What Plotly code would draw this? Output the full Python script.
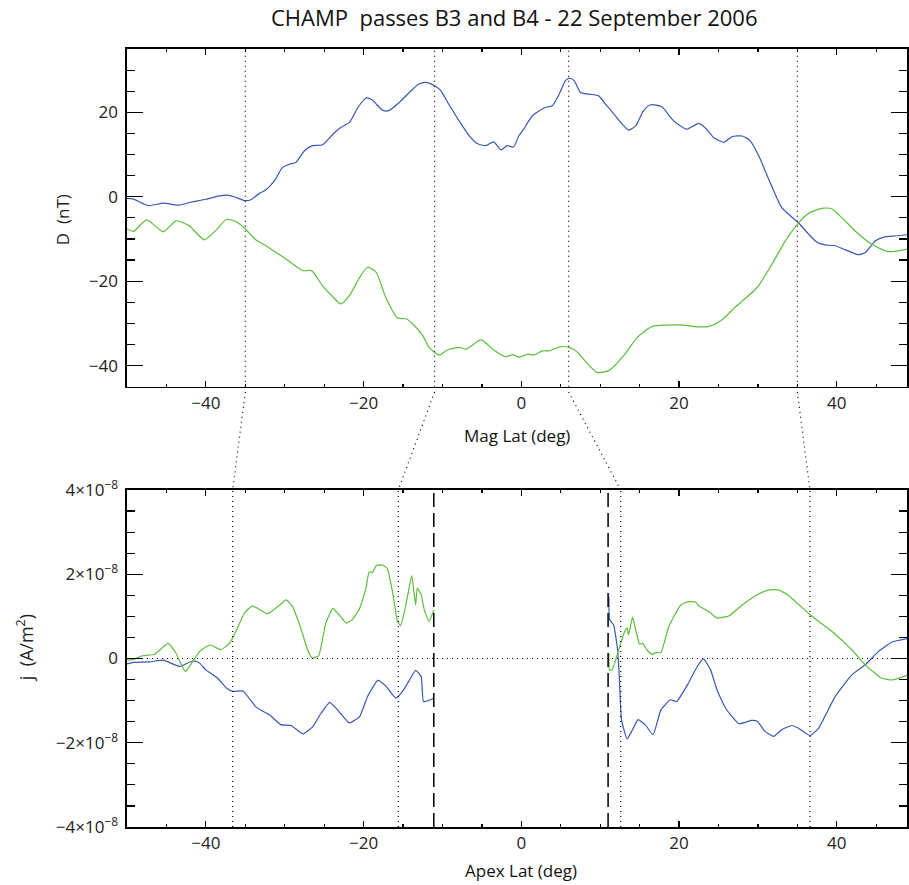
import plotly.graph_objects as go
import numpy as np

# ---------------- data ----------------
# Top panel: D (nT) vs magnetic latitude
mlat_blue = [-50.1,-49.2,-47.3,-45.4,-43.5,-41.9,-40,-38.3,-37.3,-36.4,-35.1,-34.3,-33.2,-32.4,-31.3,-30.3,-29.4,-28.6,-27.5,-26.5,-25.2,-23.9,-22.9,-21.8,-20.7,-19.7,-18.9,-17.6,-16.8,-15.5,-14.2,-13,-12.1,-11,-10.2,-9.2,-7.9,-6.6,-5.6,-4.5,-3.5,-2.6,-1.8,-1.0,-0.3,0.3,1.4,3.1,3.9,4.8,5.6,6.1,6.7,7.5,8.6,9.8,10.7,11.7,12.8,13.6,14.5,15.5,16.4,17.8,19.1,20,21,22.5,23.5,24.4,25.7,26.7,28,29,30.1,30.9,32,33,34.1,35.1,36.4,37.5,38.5,39.8,41.1,42.7,43.6,44.9,46.1,47.4,48.9]
D_blue = [-0.4,-0.55,-2.1,-1.5,-2.0,-1.3,-0.6,0.2,0.4,0,-0.9,-0.7,0.8,1.6,3.8,6.9,7.7,8.1,10.9,12.1,12.3,14.8,16.4,17.6,21.2,23.4,22.9,20.5,20.4,22.3,24.7,26.7,27.1,26.3,25.1,21.9,18.0,14.4,12.6,12.1,13.0,11.1,12.1,11.8,14.5,16.0,19.2,21.2,21.5,24.3,27.5,28.1,27.5,24.7,24.3,23.9,21.9,19.7,17.2,15.8,16.8,20.4,21.8,21.3,18.4,17.0,16.0,17.4,16.0,14.0,12.9,14.2,14.4,13.3,9.7,6.2,1.4,-2.5,-4.5,-6.1,-8.8,-10.8,-11.4,-11.6,-12.6,-13.7,-13.2,-10.4,-9.5,-9.3,-9.0]

mlat_green = [-50.1,-49.2,-47.5,-45.4,-43.8,-42.1,-40.2,-38.7,-37.4,-36.4,-35.1,-33.8,-32.4,-29.8,-27.7,-26.6,-25.2,-23.9,-22.9,-21.8,-20.5,-19.5,-18.4,-17.2,-15.7,-14.6,-13.8,-12.5,-11.7,-10.4,-9.4,-7.9,-7.0,-5.1,-3.5,-2.0,-1.1,-0.3,0.8,1.6,2.7,3.5,5.0,6.2,7.1,8.4,9.6,11.1,13.0,14.7,16.6,18.3,20.6,21.6,23.8,25.4,27.1,29.9,31.8,33.5,35.1,36.6,38.3,39.4,40.6,42.5,44.4,46.5,48.9]
D_green = [-7.5,-8.2,-5.5,-8.3,-5.7,-6.9,-10.2,-7.9,-5.4,-5.7,-7.4,-10.0,-11.6,-14.8,-17.5,-17.5,-21.1,-23.7,-25.4,-23.4,-19.1,-16.7,-17.9,-23.8,-28.7,-28.9,-30.1,-32.9,-35.7,-37.5,-36.3,-35.7,-36.1,-33.9,-36.3,-37.9,-37.4,-38.0,-37.3,-37.5,-36.5,-36.5,-35.5,-35.8,-36.8,-39.6,-41.6,-41.2,-37.6,-33.3,-30.7,-30.4,-30.4,-30.7,-30.7,-29.2,-26.2,-21.5,-15.9,-10.4,-6.3,-3.7,-2.7,-2.9,-4.9,-8.4,-11.2,-13.0,-12.4]

# Bottom panel: j (units of 1e-8 A/m^2) vs apex latitude, south and north segments
alat_blue_s = [-50.1,-49.2,-47.1,-45.4,-43.3,-42.1,-41.4,-40.8,-40,-38.5,-37.4,-36.6,-35.3,-33.6,-31.9,-30.5,-29.2,-27.7,-26.5,-25.4,-24.3,-23.3,-21.8,-20.5,-19.5,-18.2,-17.2,-15.9,-14.9,-13.4,-12.7,-12.4,-11.3,-11.1]
j_blue_s = [-0.13,-0.09,-0.08,-0.04,-0.19,-0.09,-0.06,-0.11,-0.27,-0.47,-0.70,-0.78,-0.77,-1.16,-1.34,-1.57,-1.59,-1.79,-1.63,-1.30,-1.04,-1.22,-1.53,-1.38,-0.90,-0.52,-0.65,-0.94,-0.74,-0.28,-0.43,-1.02,-0.96,-0.94]
alat_green_s = [-50.1,-49.2,-48.2,-46.5,-44.8,-43.8,-42.6,-40.8,-39.5,-38.1,-37.0,-36.2,-35.1,-34.1,-32.2,-30.9,-29.8,-29.0,-27.9,-27.1,-26.5,-25.7,-24.8,-23.9,-23.3,-22.2,-21.4,-20.5,-19.7,-19.3,-18.9,-18.4,-17.6,-17.0,-16.3,-15.7,-15.3,-14.6,-13.9,-13.6,-13.4,-13.2,-12.7,-12.3,-11.7,-11.1]
j_green_s = [-0.03,-0.03,0.06,0.10,0.36,0.13,-0.31,0.17,0.32,0.21,0.36,0.64,1.08,1.25,1.06,1.23,1.39,1.23,0.68,0.21,0.01,0.06,0.84,1.19,1.08,0.84,0.93,1.19,1.67,2.06,2.04,2.20,2.22,2.14,1.55,0.88,0.78,1.31,1.97,1.55,1.27,1.67,1.51,1.15,0.88,1.15]
alat_blue_n = [11.1,11.2,11.7,12.2,12.4,12.7,13.4,14.1,14.8,15.7,16.7,17.7,18.9,19.7,21.2,22.3,23.1,24.0,24.8,25.9,27.6,29.2,29.9,30.9,32.0,33.0,34.3,35.1,36.6,37.7,39.8,41.9,43.6,45.3,47.0,48.9]
j_blue_n = [1.47,0.92,0.80,0.21,-0.35,-1.45,-1.91,-1.69,-1.45,-1.57,-1.81,-1.22,-0.98,-1.02,-0.58,-0.19,-0.01,-0.27,-0.74,-1.18,-1.55,-1.47,-1.49,-1.73,-1.85,-1.69,-1.59,-1.65,-1.83,-1.65,-0.90,-0.39,-0.15,0.17,0.39,0.47]
alat_green_n = [11.1,11.2,11.5,11.9,12.6,13.1,13.4,13.6,14.1,14.5,15.0,15.4,15.9,16.6,17.0,17.7,18.7,20.2,21.2,22.1,22.5,23.8,24.8,26.3,28.0,30.1,31.4,32.6,33.8,36.6,39.4,42.1,43.6,45.7,47.0,48.9]
j_green_n = [0.13,-0.28,-0.27,-0.07,0.36,0.64,0.72,0.56,0.98,0.68,0.34,0.36,0.21,0.09,0.14,0.14,0.76,1.27,1.35,1.34,1.25,1.11,0.96,1.01,1.27,1.53,1.63,1.63,1.51,1.04,0.64,0.17,-0.15,-0.47,-0.51,-0.40]
j_scale = 1e-8

# Marker latitudes
mag_marks = [-35, -11, 6, 35]           # dotted lines, top panel
apex_marks = [-36.6, -15.6, 12.6, 36.6]  # dotted lines, bottom panel
apex_dashed = [-11.1, 11.0]             # dashed lines, bottom panel

x_ticks = [-40, -20, 0, 20, 40]
D_ticks = [-40, -20, 0, 20]
j_tickvals = [-4e-8, -2e-8, 0, 2e-8, 4e-8]
j_ticktext = ["\u22124\u00d710<sup>\u22128</sup>", "\u22122\u00d710<sup>\u22128</sup>", "0",
              "2\u00d710<sup>\u22128</sup>", "4\u00d710<sup>\u22128</sup>"]

BLUE = "#3a56b4"
GREEN = "#5cbe3a"
FONT = "Open Sans"

fig = go.Figure()

fig.add_trace(go.Scatter(x=mlat_blue, y=D_blue, mode="lines", line=dict(color=BLUE, width=1.2, shape="spline", smoothing=0.6), xaxis="x", yaxis="y", showlegend=False, hoverinfo="skip"))
fig.add_trace(go.Scatter(x=mlat_green, y=D_green, mode="lines", line=dict(color=GREEN, width=1.2, shape="spline", smoothing=0.6), xaxis="x", yaxis="y", showlegend=False, hoverinfo="skip"))

for xs, ys, col in [(alat_blue_s, j_blue_s, BLUE), (alat_blue_n, j_blue_n, BLUE),
                    (alat_green_s, j_green_s, GREEN), (alat_green_n, j_green_n, GREEN)]:
    fig.add_trace(go.Scatter(x=xs, y=np.array(ys) * j_scale, mode="lines",
                             line=dict(color=col, width=1.2, shape="spline", smoothing=0.4),
                             xaxis="x2", yaxis="y2", showlegend=False, hoverinfo="skip"))

PLOT_TOP = 49
PLOT_BOT = 827
H = PLOT_BOT - PLOT_TOP
def py(p):
    return (PLOT_BOT - p) / H

top_dom = [py(386.7), 1.0]
bot_dom = [0.0, py(490)]

xcommon = dict(range=[-50, 48.9], tickvals=x_ticks, ticks="inside", ticklen=6, tickwidth=1.2,
               tickcolor="black", showline=True, linecolor="black", linewidth=1.6, mirror="ticks",
               showgrid=False, zeroline=False,
               minor=dict(dtick=5, tick0=0, ticks="inside", ticklen=3, tickcolor="black", tickwidth=1.2),
               tickfont=dict(family=FONT, size=17, color="#222"))
ycommon = dict(ticks="inside", ticklen=16, tickwidth=1.2, tickcolor="black", showline=True,
               linecolor="black", linewidth=1.6, mirror="ticks", showgrid=False, zeroline=False,
               tickfont=dict(family=FONT, size=17, color="#222"), ticklabelstandoff=4)

fig.update_layout(
    width=909, height=885,
    margin=dict(l=127, r=0, t=PLOT_TOP, b=885 - PLOT_BOT),
    paper_bgcolor="white", plot_bgcolor="white",
    xaxis=dict(domain=[0, 1], anchor="y", **xcommon),
    yaxis=dict(domain=top_dom, anchor="x", range=[-45, 35], tickvals=D_ticks,
               minor=dict(dtick=5, tick0=0, ticks="inside", ticklen=8, tickcolor="black", tickwidth=1.2),
               **ycommon),
    xaxis2=dict(domain=[0, 1], anchor="y2", **xcommon),
    yaxis2=dict(domain=bot_dom, anchor="x2", range=[-4e-8, 4e-8], tickvals=j_tickvals, ticktext=j_ticktext,
                minor=dict(dtick=0.5e-8, tick0=0, ticks="inside", ticklen=8, tickcolor="black", tickwidth=1.2),
                **ycommon),
)

shapes = []
dot = dict(color="black", width=1.2, dash="1px,4px")
dash = dict(color="black", width=1.5, dash="14px,6px")
for m in mag_marks:
    shapes.append(dict(type="line", xref="x", yref="y domain", x0=m, x1=m, y0=0, y1=1, line=dot))
for m in apex_marks:
    shapes.append(dict(type="line", xref="x2", yref="y2 domain", x0=m, x1=m, y0=0, y1=1, line=dot))
for m in apex_dashed:
    shapes.append(dict(type="line", xref="x2", yref="y2 domain", x0=m, x1=m, y0=0, y1=1, line=dash))
shapes.append(dict(type="line", xref="x2 domain", yref="y2", x0=0, x1=1, y0=0, y1=0, line=dot))
for m_top, m_bot in zip(mag_marks, apex_marks):
    shapes.append(dict(type="line", xref="x", yref="paper", x0=m_top, x1=m_bot, y0=py(392), y1=py(490), line=dot))
fig.update_layout(shapes=shapes)

ann = [
    dict(text="CHAMP\u00a0 passes B3 and B4 - 22 September 2006", xref="paper", yref="paper",
         x=(515 - 127) / 782, y=py(17), xanchor="center", yanchor="middle", showarrow=False,
         font=dict(family=FONT, size=22, color="#111")),
    dict(text="Mag Lat (deg)", xref="x", yref="paper", x=-0.5, y=py(435), xanchor="center", yanchor="middle",
         showarrow=False, font=dict(family=FONT, size=17, color="#111")),
    dict(text="Apex Lat (deg)", xref="x2", yref="paper", x=0, y=py(871), xanchor="center", yanchor="middle",
         showarrow=False, font=dict(family=FONT, size=17, color="#111")),
    dict(text="D\u00a0 (nT)", xref="paper", yref="paper", x=(62 - 127) / 782, y=py(220), xanchor="center",
         yanchor="middle", textangle=-90, showarrow=False, font=dict(family=FONT, size=17, color="#222")),
    dict(text="j\u00a0 (A/m<sup>2</sup>)", xref="paper", yref="paper", x=(25 - 127) / 782, y=py(648),
         xanchor="center", yanchor="middle", textangle=-90, showarrow=False,
         font=dict(family=FONT, size=18, color="#222")),
]
fig.update_layout(annotations=ann)

fig.write_html("out.html", config={"displayModeBar": False, "staticPlot": True},
               post_script="document.body.style.margin='0';document.body.style.padding='0';document.body.style.overflow='hidden';")
